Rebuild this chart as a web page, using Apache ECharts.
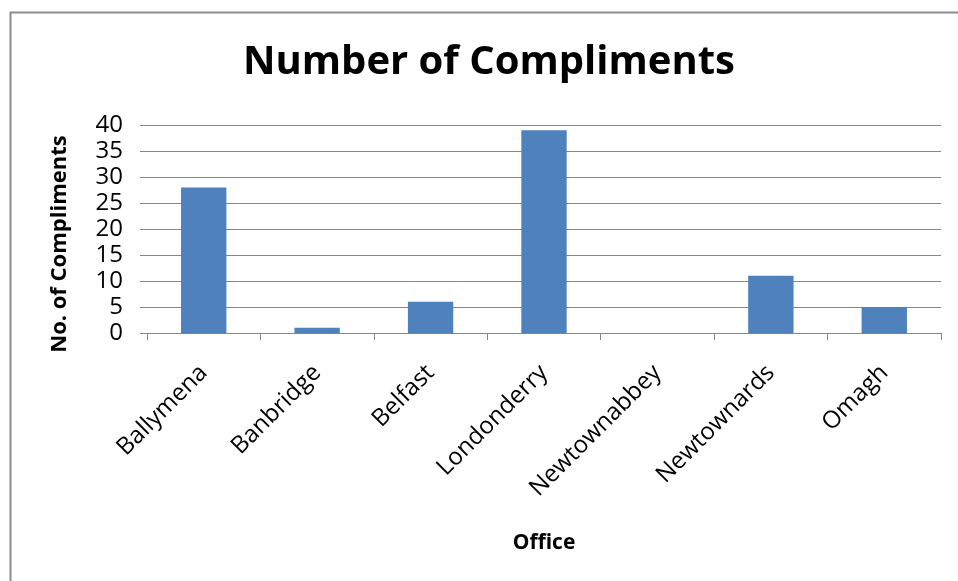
<!DOCTYPE html>
<html><head><meta charset="utf-8">
<script src="https://cdn.jsdelivr.net/npm/echarts@6/dist/echarts.min.js"></script>
<style>html,body{margin:0;padding:0;background:#fff}#c{width:958px;height:581px}</style>
</head><body><div id="c"></div>
<script>
const categories = ['Ballymena','Banbridge','Belfast','Londonderry','Newtownabbey','Newtownards','Omagh'];
const values = [28, 1, 6, 39, 0, 11, 5];
const titleText = 'Number of Compliments';
const yName = 'No. of Compliments';
const xName = 'Office';
const font = '"Open Sans", sans-serif';
const chart = echarts.init(document.getElementById('c'), null, {renderer:'canvas'});
chart.setOption({
  animation:false,
  backgroundColor:'#fff',
  graphic:[{type:'rect',shape:{x:10.5,y:12.5,width:960,height:600},style:{fill:'none',stroke:'#8c8c8c',lineWidth:2},silent:true}],
  title:{text:titleText,left:238,top:38,textStyle:{fontFamily:font,fontSize:40,fontWeight:'bold',color:'#000'}},
  grid:{left:147,right:17,top:125,bottom:248},
  xAxis:{type:'category',data:categories,
    name:xName,nameLocation:'middle',nameGap:200,
    nameTextStyle:{fontFamily:font,fontSize:21,fontWeight:'bold',color:'#000'},
    axisLine:{lineStyle:{color:'#868686'}},
    axisTick:{show:true,length:7,lineStyle:{color:'#868686'}},
    axisLabel:{rotate:45,fontFamily:font,fontSize:24,color:'#000',margin:36,interval:0}},
  yAxis:{type:'value',min:0,max:40,interval:5,
    name:yName,nameLocation:'middle',nameGap:76,
    nameTextStyle:{fontFamily:font,fontSize:22,fontWeight:'bold',color:'#000',padding:[0,30,0,0]},
    axisLine:{show:false},
    axisTick:{show:true,length:7,lineStyle:{color:'#868686'}},
    splitLine:{lineStyle:{color:'#868686'}},
    axisLabel:{fontFamily:font,fontSize:24,color:'#000',margin:24}},
  series:[{type:'bar',data:values,barWidth:'40%',itemStyle:{color:'#4f81bd'}}]
});
</script></body></html>
